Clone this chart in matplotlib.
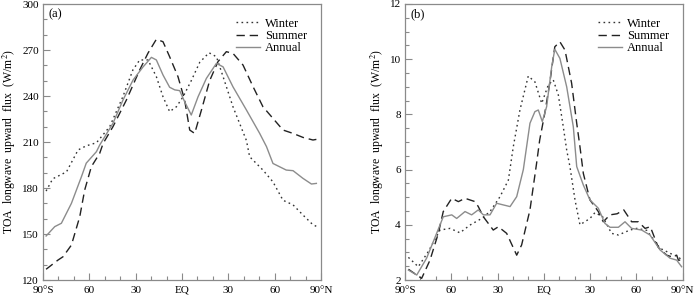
import matplotlib
matplotlib.use("Agg")
import matplotlib.pyplot as plt
from matplotlib.ticker import MultipleLocator

plt.rcParams['font.family'] = ['Liberation Serif', 'DejaVu Serif']
plt.rcParams['mathtext.fontset'] = 'stix'

# ---- Panel (a): TOA longwave upward flux (W/m2) ----
a_win_lat = [-88, -83.7, -74.8, -67.3, -62, -55.4, -46.8, -38.3, -31.8, -27.4, -22, -16.6, -12.3, -8, -3.6,
             0.7, 6, 11.5, 17.5, 22.3, 26.6, 33, 41.7, 43.8, 52.4, 58.9, 65.4, 71.9, 78.3, 84.8, 87]
a_win_val = [178, 186, 190.5, 204.8, 207.5, 209.5, 220, 239.5, 257, 263.5, 263.5, 252.6, 239.5, 229.8, 233,
             239.5, 250, 262, 268.2, 265.6, 252.6, 233, 211, 200.4, 191.7, 184, 172, 169, 162.4, 156, 155]

a_sum_lat = [-88, -80.3, -77, -71.6, -66.2, -63, -58.7, -53.3, -51.1, -44.7, -36, -27.4, -22, -16.6, -12.3,
             -8, -2.6, 1.7, 5, 8.2, 12.6, 17.9, 23.3, 28.7, 33, 39.5, 46, 52.4, 58.9, 65.4, 71.9, 78.3, 84.8, 87]
a_sum_val = [127, 133, 135.2, 142.8, 161.3, 178.7, 193.9, 202.6, 209, 220, 237.4, 257, 268, 277, 275.4,
             265.6, 252.6, 237.4, 217.8, 215.6, 230.9, 250, 262.4, 268.9, 267.8, 260.2, 246.1, 233, 225.4,
             217.8, 215.6, 213, 211.3, 211.7]

a_ann_lat = [-88, -82.4, -78.1, -71.6, -65.1, -62, -55.4, -53.3, -44.7, -38.2, -31.7, -25.2, -19.8, -16.6,
             -12.3, -8, -4.7, -1.5, 1.7, 6, 10.4, 15.8, 22.3, 26.6, 33, 41.7, 50.3, 54.7, 58.9, 67.5, 71.9,
             78.3, 83.8, 87]
a_ann_val = [148.7, 154.8, 157, 170, 187.4, 196.2, 203.7, 208, 222.2, 237.4, 250.4, 259, 265.2, 263.5,
             253.7, 245.7, 244, 243.5, 236.3, 227.6, 239.5, 251.5, 261.3, 259, 246, 230.9, 215.6, 207, 196,
             191.7, 191.3, 186.3, 182.6, 183]

# ---- Panel (b) ----
b_win_lat = [-87.8, -81.4, -74.9, -67.3, -60.8, -54.4, -47.9, -40.3, -34.9, -28.4, -23, -19.8, -15.5, -10.1,
             -5.8, -1.4, 2.9, 6.1, 9.4, 12.6, 14.8, 16.9, 20.2, 23.4, 29.9, 33.1, 38, 43.9, 48.3, 55.8, 60.2,
             66.7, 75.3, 83.9, 87.2, 89.3]
b_win_val = [2.82, 2.48, 3.03, 3.81, 3.87, 3.71, 3.99, 4.23, 4.48, 5.02, 5.62, 6.83, 8.16, 9.39,
             9.18, 8.40, 9.07, 9.25, 8.70, 7.55, 6.71, 6.11, 4.9, 4.0, 4.23, 4.44, 4.3, 3.69, 3.63, 3.81, 3.87,
             3.8, 3.15, 2.91, 2.84, 2.72]

b_sum_lat = [-87.8, -82.4, -79.2, -73.8, -68.4, -65.2, -59.7, -55.4, -51.1, -44.6, -42.5, -39.2, -32.8, -29.5,
             -24.1, -17.6, -14.4, -9, -4.7, -2.7, 0.6, 3.8, 7.1, 10.4, 13.7, 18, 21.3, 23.4, 25.6, 29.9, 35.3,
             38.5, 42.9, 47.5, 51.8, 56.9, 61.3, 65.6, 69, 74.2, 79.6, 82.9, 86.1, 87.2, 89.3]
b_sum_val = [2.39, 2.18, 2.06, 2.72, 3.69, 4.48, 4.96, 4.84, 4.96, 4.84, 4.66, 4.29, 3.81, 3.93,
             3.69, 2.9, 3.27, 4.54, 6.23, 7.07, 8.04, 9.13, 10.45, 10.63, 10.33, 9.13, 7.68, 6.83, 5.86, 4.9,
             4.48, 4.11, 4.36, 4.4, 4.54, 4.11, 4.11, 3.87, 3.93, 3.18, 2.9, 2.84, 2.9, 2.72, 2.72]

b_ann_lat = [-87.8, -82.4, -76, -69.5, -65.2, -59.7, -56.5, -51.1, -46.8, -42.5, -39.2, -34.9, -30.6, -21.9,
             -17.6, -13.3, -9, -5.8, -3.6, -1, 1.8, 5.1, 7.1, 10.4, 14.8, 19.1, 21.3, 25.6, 29.9, 35.3, 39.6,
             42.9, 48.3, 52.6, 56.9, 63.4, 68.8, 75.3, 81.8, 86.1, 89.3]
b_ann_val = [2.36, 2.18, 2.79, 3.69, 4.29, 4.36, 4.23, 4.48, 4.36, 4.54, 4.36, 4.36, 4.78, 4.66,
             5.02, 6.0, 7.68, 8.1, 8.16, 7.74, 8.28, 9.73, 10.36, 10.03, 9.0, 7.55, 6.11, 5.44, 4.9, 4.6, 4.05,
             3.91, 3.91, 4.11, 3.87, 3.81, 3.63, 3.09, 2.79, 2.72, 2.48]

x_ticks = [-90, -60, -30, 0, 30, 60, 90]
x_labels = ['90°S', '60', '30', 'EQ', '30', '60', '90°N']
legend_labels = ['Winter', 'Summer', 'Annual']
ylabel = 'TOA  longwave  upward  flux  (W/m$^2$)'

fig = plt.figure(figsize=(7, 3), dpi=100)
ax1 = fig.add_axes([43 / 700, 20 / 300, 278 / 700, 276 / 300])
ax2 = fig.add_axes([405 / 700, 20 / 300, 277.7 / 700, 276 / 300])

spine_col = '#8a8a8a'
win_kw = dict(color='#333333', lw=1.0, linestyle=(0, (1.2, 2.4)))
sum_kw = dict(color='#222222', lw=1.0, linestyle=(0, (6, 3.5)))
ann_kw = dict(color='#8c8c8c', lw=1.0, linestyle='-')


def style(ax, ylim, major, minor, label):
    ax.set_xlim(-90, 90)
    ax.set_ylim(*ylim)
    ax.set_xticks(x_ticks)
    ax.set_xticklabels(x_labels)
    ax.xaxis.set_minor_locator(MultipleLocator(10))
    ax.yaxis.set_major_locator(MultipleLocator(major))
    ax.yaxis.set_minor_locator(MultipleLocator(minor))
    ax.tick_params(which='both', direction='in', color=spine_col, labelsize=8,
                   top=False, right=False)
    ax.tick_params(axis='x', pad=4)
    ax.tick_params(axis='y', pad=3)
    ax.tick_params(which='major', length=5, width=0.8)
    ax.tick_params(which='minor', length=3, width=0.8)
    for s in ax.spines.values():
        s.set_color(spine_col)
        s.set_linewidth(0.9)
    ax.set_ylabel(ylabel, fontsize=8.5, labelpad=3)
    ax.text(0.02, 0.985, label, transform=ax.transAxes, fontsize=9, va='top', ha='left')
    ax.legend(loc='upper right', frameon=False, fontsize=9, handlelength=1.9,
              handletextpad=0.4, labelspacing=0.02, borderaxespad=0.7)


l1, = ax1.plot(a_win_lat, a_win_val, **win_kw)
l2, = ax1.plot(a_sum_lat, a_sum_val, **sum_kw)
l3, = ax1.plot(a_ann_lat, a_ann_val, **ann_kw)
for l, t in zip([l1, l2, l3], legend_labels):
    l.set_label(t)
style(ax1, (120, 300), 30, 10, '(a)')

m1, = ax2.plot(b_win_lat, b_win_val, **win_kw)
m2, = ax2.plot(b_sum_lat, b_sum_val, **sum_kw)
m3, = ax2.plot(b_ann_lat, b_ann_val, **ann_kw)
for l, t in zip([m1, m2, m3], legend_labels):
    l.set_label(t)
style(ax2, (2, 12), 2, 0.5, '(b)')

fig.savefig('out.png', dpi=100)
